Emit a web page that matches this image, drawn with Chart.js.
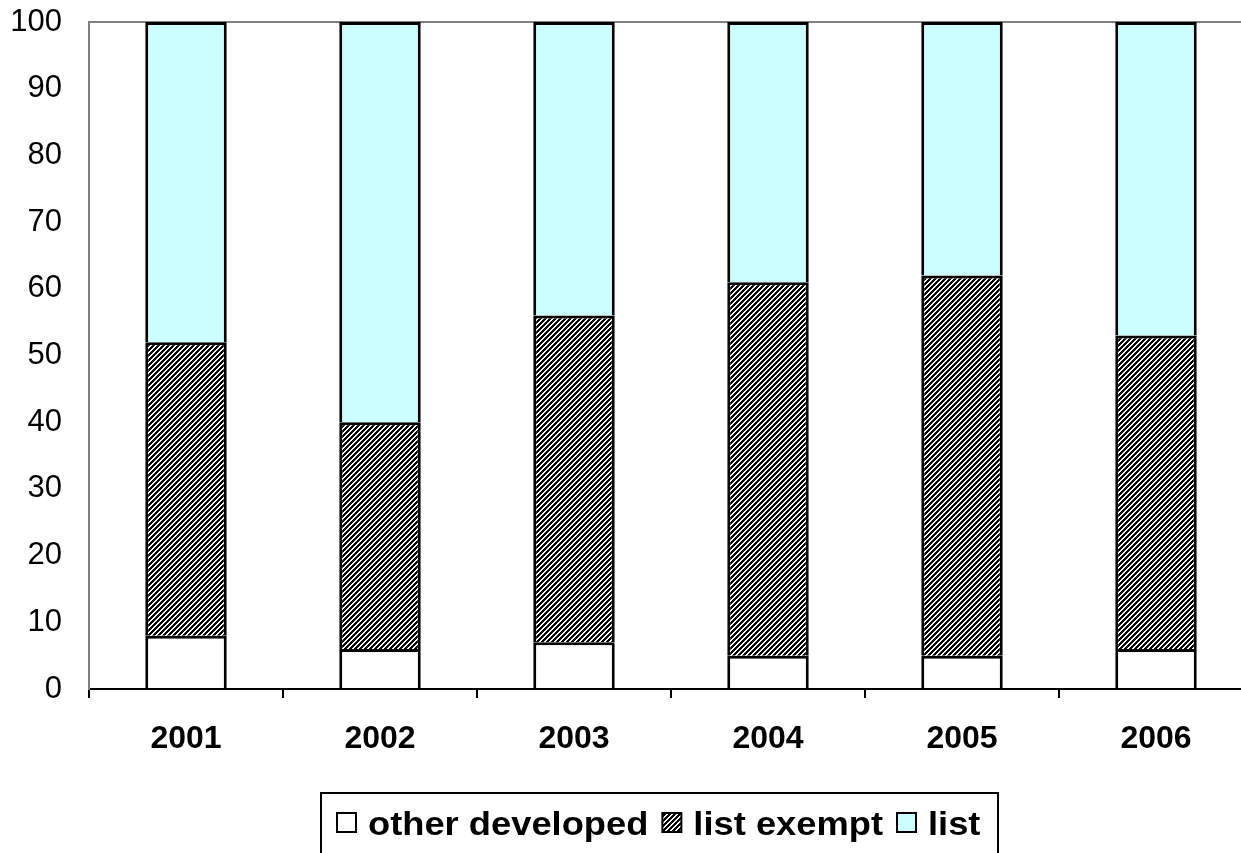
<!DOCTYPE html>
<html>
<head>
<meta charset="utf-8">
<script src="https://cdn.jsdelivr.net/npm/chart.js@4/dist/chart.umd.min.js"></script>
<style>
  html, body { margin: 0; padding: 0; background: #fff; overflow: hidden; }
  #wrap { position: relative; width: 1280px; height: 853px; }
  canvas { display: block; }
</style>
</head>
<body>
<div id="wrap"><canvas id="c" width="1280" height="853"></canvas></div>
<script>
// ---- data ----
const years = ['2001', '2002', '2003', '2004', '2005', '2006'];
const otherDeveloped = [8, 6, 7, 5, 5, 6];
const listExempt = [44, 34, 49, 56, 57, 47];
const list = [48, 60, 44, 39, 38, 47];
const seriesNames = ['other developed', 'list exempt', 'list'];
const yTicks = [0, 10, 20, 30, 40, 50, 60, 70, 80, 90, 100];

// ---- crisp hatch pattern (white "/" stripes on black) ----
function makeHatch() {
  const s = 5;
  const t = document.createElement('canvas');
  t.width = s; t.height = s;
  const g = t.getContext('2d');
  const img = g.createImageData(s, s);
  for (let y = 0; y < s; y++) {
    for (let x = 0; x < s; x++) {
      const k = (x + y) % s;
      const v = (k === 0 || k === 1) ? 255 : 0;
      const i = (y * s + x) * 4;
      img.data[i] = v; img.data[i + 1] = v; img.data[i + 2] = v; img.data[i + 3] = 255;
    }
  }
  g.putImageData(img, 0, 0);
  return document.getElementById('c').getContext('2d').createPattern(t, 'repeat');
}
const hatch = makeHatch();

const FONT = '"Liberation Sans", Arial, Helvetica, sans-serif';

// custom boxed legend drawn below the axis
const boxedLegend = {
  id: 'boxedLegend',
  afterDraw(chart) {
    const ctx = chart.ctx;
    ctx.save();
    ctx.strokeStyle = '#000';
    ctx.lineWidth = 2;
    ctx.strokeRect(321, 793, 998 - 321, 120);
    const sx = 1.1;
    ctx.font = 'bold 33px ' + FONT;
    ctx.textBaseline = 'alphabetic';
    let x = 337;
    chart.data.datasets.forEach((ds) => {
      ctx.fillStyle = ds.backgroundColor;
      ctx.fillRect(x, 813, 19, 19);
      ctx.lineWidth = 2;
      ctx.strokeStyle = '#000';
      ctx.strokeRect(x, 813, 19, 19);
      const tx = x + 31;
      ctx.fillStyle = '#000';
      ctx.save();
      ctx.translate(tx, 835);
      ctx.scale(sx, 1);
      ctx.fillText(ds.label, 0, 0);
      ctx.restore();
      const w = ctx.measureText(ds.label).width * sx;
      x = tx + w + 14;
    });
    ctx.restore();
  }
};

new Chart(document.getElementById('c'), {
  type: 'bar',
  data: {
    labels: years,
    datasets: [
      { label: seriesNames[0], data: otherDeveloped, backgroundColor: '#ffffff' },
      { label: seriesNames[1], data: listExempt, backgroundColor: hatch },
      { label: seriesNames[2], data: list, backgroundColor: '#ccffff' }
    ].map(d => Object.assign(d, {
      borderColor: '#000',
      borderWidth: { top: 3, left: 3, right: 3, bottom: 0 },
      borderSkipped: false,
      barPercentage: 0.42,
      categoryPercentage: 1.0
    }))
  },
  options: {
    responsive: false,
    animation: false,
    events: [],
    layout: { padding: { left: 0, top: 22, right: 27, bottom: 0 } },
    plugins: {
      legend: { display: false },
      tooltip: { enabled: false },
      title: { display: false }
    },
    scales: {
      x: {
        stacked: true,
        offset: true,
        border: { display: true, color: '#000', width: 2 },
        grid: {
          offset: true,
          drawOnChartArea: false,
          drawTicks: true,
          tickLength: 9,
          color: '#000',
          lineWidth: 2
        },
        ticks: {
          color: '#000',
          padding: 22,
          maxRotation: 0,
          font: { family: FONT, size: 32, weight: 'bold' }
        },
        afterFit(axis) { axis.height = 164; axis.paddingLeft = 0; axis.paddingRight = 0; }
      },
      y: {
        stacked: true,
        min: 0,
        max: 100,
        afterBuildTicks(axis) { axis.ticks = yTicks.map(v => ({ value: v })); },
        border: { display: true, color: '#808080', width: 2 },
        grid: {
          drawTicks: false,
          color: (c) => (c.tick && c.tick.value === 100 ? '#808080' : 'rgba(0,0,0,0)'),
          lineWidth: 2
        },
        ticks: {
          color: '#000',
          padding: 27,
          font: { family: FONT, size: 31 }
        },
        afterFit(axis) { axis.width = 89; axis.paddingTop = 0; axis.paddingBottom = 0; }
      }
    }
  },
  plugins: [boxedLegend]
});
</script>
</body>
</html>
